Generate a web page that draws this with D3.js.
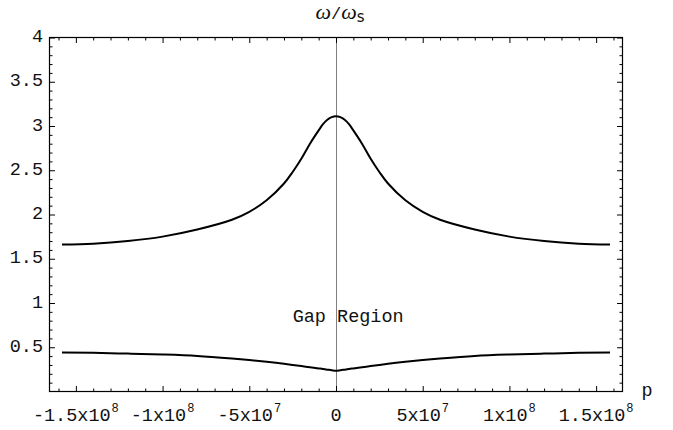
<!DOCTYPE html>
<html>
<head>
<meta charset="utf-8">
<script src="https://cdn.jsdelivr.net/npm/d3@7"></script>
<style>
  html, body { margin: 0; padding: 0; background: #fff; }
  svg { display: block; }
  text { font-family: "Liberation Mono", "DejaVu Sans Mono", monospace; fill: #111; }
</style>
</head>
<body>
<script>
// ---- data ----
const pValues = [-1.58e8, -1.4e8, -1.2e8, -1.0e8, -8e7, -6e7, -5e7, -4e7, -3e7, -2.5e7, -2e7, -1.5e7, -1e7, -7.5e6, -5e6, -2.5e6, 0,
                 2.5e6, 5e6, 7.5e6, 1e7, 1.5e7, 2e7, 2.5e7, 3e7, 4e7, 5e7, 6e7, 8e7, 1.0e8, 1.2e8, 1.4e8, 1.58e8];
const upperBranch = [1.66, 1.67, 1.70, 1.75, 1.83, 1.94, 2.03, 2.16, 2.35, 2.48, 2.63, 2.80, 2.95, 3.02, 3.07, 3.10, 3.11,
                     3.10, 3.07, 3.02, 2.95, 2.80, 2.63, 2.48, 2.35, 2.16, 2.03, 1.94, 1.83, 1.75, 1.70, 1.67, 1.66];
const lowerBranch = [0.440, 0.437, 0.428, 0.418, 0.402, 0.373, 0.356, 0.336, 0.313, 0.300, 0.287, 0.274, 0.261, 0.254, 0.247, 0.240, 0.234,
                     0.240, 0.247, 0.254, 0.261, 0.274, 0.287, 0.300, 0.313, 0.336, 0.356, 0.373, 0.402, 0.418, 0.428, 0.437, 0.440];

const xTickValues = [-1.5e8, -1e8, -5e7, 0, 5e7, 1e8, 1.5e8];
const xTickBase   = ["-1.5x10", "-1x10", "-5x10", "0", "5x10", "1x10", "1.5x10"];
const xTickExp    = ["8", "8", "7", "", "7", "8", "8"];
const xMinorTicks = [-1.6e8,-1.4e8,-1.3e8,-1.2e8,-1.1e8,-9e7,-8e7,-7e7,-6e7,-4e7,-3e7,-2e7,-1e7,
                     1e7,2e7,3e7,4e7,6e7,7e7,8e7,9e7,1.1e8,1.2e8,1.3e8,1.4e8,1.6e8];
const yTickValues = [0.5, 1, 1.5, 2, 2.5, 3, 3.5, 4];
const yTickLabels = ["0.5", "1", "1.5", "2", "2.5", "3", "3.5", "4"];
const yMinorTicks = [0.1,0.2,0.3,0.4,0.6,0.7,0.8,0.9,1.1,1.2,1.3,1.4,1.6,1.7,1.8,1.9,2.1,2.2,2.3,2.4,
                     2.6,2.7,2.8,2.9,3.1,3.2,3.3,3.4,3.6,3.7,3.8,3.9];
const xDomain = [-1.652e8, 1.652e8];
const yDomain = [0, 4];
const annotationText = "Gap Region";
const annotationPos = [-2.5e7, 0.78];

// ---- layout ----
const W = 673, H = 430;
const L = 49.5, R = 622.5, T = 37.5, B = 391.5;
const FS = 18.5;

const svg = d3.select("body").append("svg").attr("width", W).attr("height", H);

const x = d3.scaleLinear().domain(xDomain).range([L, R]);
const y = d3.scaleLinear().domain(yDomain).range([B, T]);

// y axis line at p = 0
svg.append("line")
  .attr("x1", Math.round(x(0)) + 0.5).attr("x2", Math.round(x(0)) + 0.5)
  .attr("y1", T).attr("y2", B)
  .attr("stroke", "#808080").attr("stroke-width", 1);

// ticks helper
function tickAxis(axisFn, scale, values, size, transform) {
  const g = svg.append("g").attr("transform", transform)
    .call(axisFn(scale).tickValues(values).tickSize(size).tickFormat(""));
  g.select(".domain").remove();
  g.selectAll(".tick line").attr("stroke", "#000").attr("stroke-width", 1);
  return g;
}
tickAxis(d3.axisBottom, x, xTickValues, -5.5, `translate(0,${B})`);
tickAxis(d3.axisBottom, x, xMinorTicks, -3, `translate(0,${B})`);
tickAxis(d3.axisTop, x, xTickValues, -5.5, `translate(0,${T})`);
tickAxis(d3.axisTop, x, xMinorTicks, -3, `translate(0,${T})`);
tickAxis(d3.axisLeft, y, yTickValues, -5.5, `translate(${L},0)`);
tickAxis(d3.axisLeft, y, yMinorTicks, -3, `translate(${L},0)`);
tickAxis(d3.axisRight, y, yTickValues, -5.5, `translate(${R},0)`);
tickAxis(d3.axisRight, y, yMinorTicks, -3, `translate(${R},0)`);

// frame
svg.append("rect")
  .attr("x", L).attr("y", T).attr("width", R - L).attr("height", B - T)
  .attr("fill", "none").attr("stroke", "#000").attr("stroke-width", 1.2);

// x tick labels
xTickValues.forEach((v, i) => {
  const t = svg.append("text")
    .attr("x", x(v)).attr("y", 421)
    .attr("text-anchor", "middle")
    .style("font-size", FS + "px");
  t.append("tspan").text(xTickBase[i]);
  if (xTickExp[i]) {
    t.append("tspan").attr("dy", -9).attr("dx", 1).style("font-size", "12px").text(xTickExp[i]);
  }
});

// y tick labels
yTickValues.forEach((v, i) => {
  svg.append("text")
    .attr("x", 43).attr("y", y(v))
    .attr("text-anchor", "end")
    .attr("dominant-baseline", "central")
    .style("font-size", FS + "px")
    .text(yTickLabels[i]);
});

// curves
const data = pValues.map((p, i) => ({p, u: upperBranch[i], l: lowerBranch[i]}));
svg.append("path")
  .datum(data)
  .attr("fill", "none").attr("stroke", "#000").attr("stroke-width", 2)
  .attr("stroke-linejoin", "round")
  .attr("d", d3.line().x(d => x(d.p)).y(d => y(d.u)).curve(d3.curveCatmullRom.alpha(0.5)));
svg.append("path")
  .datum(data)
  .attr("fill", "none").attr("stroke", "#000").attr("stroke-width", 2)
  .attr("stroke-linejoin", "round")
  .attr("d", d3.line().x(d => x(d.p)).y(d => y(d.l)).curve(d3.curveMonotoneX));

// annotation
svg.append("text")
  .attr("x", x(annotationPos[0])).attr("y", y(annotationPos[1]))
  .style("font-size", FS + "px")
  .style("white-space", "pre")
  .attr("xml:space", "preserve")
  .text(annotationText);

// axis labels
const title = svg.append("text")
  .attr("x", x(0) + 4).attr("y", 19)
  .attr("text-anchor", "middle");
title.append("tspan").style("font-family", "'Liberation Serif', serif").style("font-style", "italic").style("font-size", "22px").text("ω");
title.append("tspan").style("font-size", "17px").text("/");
title.append("tspan").style("font-family", "'Liberation Serif', serif").style("font-style", "italic").style("font-size", "22px").text("ω");
title.append("tspan").attr("dy", 3).style("font-size", "15px").style("font-family", "'DejaVu Sans', sans-serif").text("s");

svg.append("text")
  .attr("x", R + 19).attr("y", 396)
  .style("font-size", FS + "px")
  .text("p");
</script>
</body>
</html>
